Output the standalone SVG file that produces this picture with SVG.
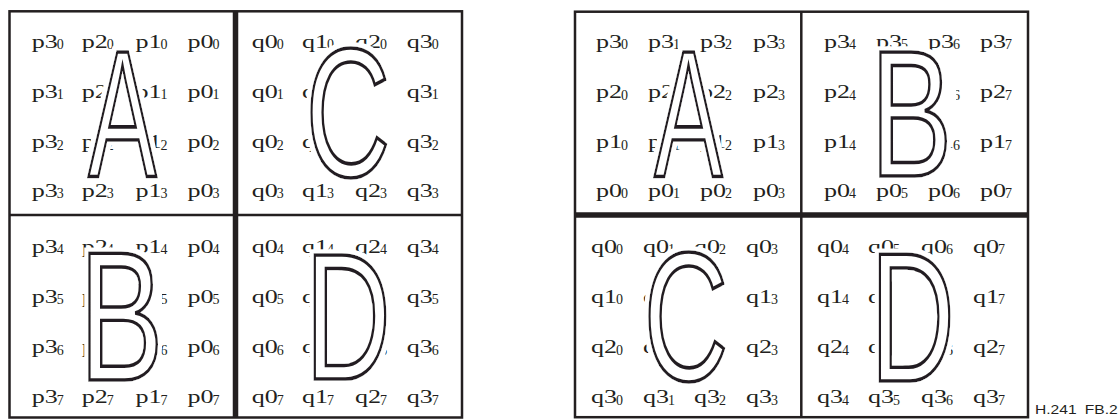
<svg xmlns="http://www.w3.org/2000/svg" width="1119" height="419" viewBox="0 0 1119 419">
<style>
.m{font-family:"Liberation Serif","Times New Roman",serif;font-size:18px;fill:#231f20}
.s{font-family:"Liberation Serif","Times New Roman",serif;font-size:14px;fill:#231f20}
.big{font-family:"Liberation Sans",Arial,sans-serif;font-size:100px;fill:#fff;stroke:#231f20;stroke-width:3px;stroke-linejoin:miter;vector-effect:non-scaling-stroke}
.w{fill:#fff;stroke:none}
.ln{stroke:#231f20;fill:none;stroke-width:2.5}
.thick{stroke:#231f20;fill:none;stroke-width:5.5}
.cap{font-family:"Liberation Sans",Arial,sans-serif;font-size:12px;fill:#231f20;word-spacing:3px}
</style>
<defs>
<filter id="halo" x="-15%" y="-15%" width="130%" height="130%">
<feMorphology in="SourceAlpha" operator="dilate" radius="4" result="d"/>
<feFlood flood-color="#fff" result="wf"/>
<feComposite in="wf" in2="d" operator="in" result="h"/>
<feMerge><feMergeNode in="h"/><feMergeNode in="SourceGraphic"/></feMerge>
</filter>
</defs>
<rect width="1119" height="419" fill="#fff"/>

<g id="left-TL">
<text class="m" transform="matrix(1.45 0 0 1 31.7 47.5)">p3</text><text class="s" x="56.7" y="49">0</text>
<text class="m" transform="matrix(1.45 0 0 1 81.7 47.5)">p2</text><text class="s" x="106.7" y="49">0</text>
<text class="m" transform="matrix(1.45 0 0 1 135.5 47.5)">p1</text><text class="s" x="160.5" y="49">0</text>
<text class="m" transform="matrix(1.45 0 0 1 187.5 47.5)">p0</text><text class="s" x="212.5" y="49">0</text>
<text class="m" transform="matrix(1.45 0 0 1 31.7 97.5)">p3</text><text class="s" x="56.7" y="99">1</text>
<text class="m" transform="matrix(1.45 0 0 1 81.7 97.5)">p2</text><text class="s" x="106.7" y="99">1</text>
<text class="m" transform="matrix(1.45 0 0 1 135.5 97.5)">p1</text><text class="s" x="160.5" y="99">1</text>
<text class="m" transform="matrix(1.45 0 0 1 187.5 97.5)">p0</text><text class="s" x="212.5" y="99">1</text>
<text class="m" transform="matrix(1.45 0 0 1 31.7 148)">p3</text><text class="s" x="56.7" y="149.5">2</text>
<text class="m" transform="matrix(1.45 0 0 1 81.7 148)">p2</text><text class="s" x="106.7" y="149.5">2</text>
<text class="m" transform="matrix(1.45 0 0 1 135.5 148)">p1</text><text class="s" x="160.5" y="149.5">2</text>
<text class="m" transform="matrix(1.45 0 0 1 187.5 148)">p0</text><text class="s" x="212.5" y="149.5">2</text>
<text class="m" transform="matrix(1.45 0 0 1 31.7 196.5)">p3</text><text class="s" x="56.7" y="198">3</text>
<text class="m" transform="matrix(1.45 0 0 1 81.7 196.5)">p2</text><text class="s" x="106.7" y="198">3</text>
<text class="m" transform="matrix(1.45 0 0 1 135.5 196.5)">p1</text><text class="s" x="160.5" y="198">3</text>
<text class="m" transform="matrix(1.45 0 0 1 187.5 196.5)">p0</text><text class="s" x="212.5" y="198">3</text>
<g filter="url(#halo)">
<text class="big" transform="matrix(1.024 0 0 1.808 88.3 175.7)">A</text>
</g>
</g>

<g id="left-TR">
<text class="m" transform="matrix(1.45 0 0 1 251.7 47.5)">q0</text><text class="s" x="276.7" y="49">0</text>
<text class="m" transform="matrix(1.45 0 0 1 302 47.5)">q1</text><text class="s" x="327" y="49">0</text>
<text class="m" transform="matrix(1.45 0 0 1 355 47.5)">q2</text><text class="s" x="380" y="49">0</text>
<text class="m" transform="matrix(1.45 0 0 1 406.7 47.5)">q3</text><text class="s" x="431.7" y="49">0</text>
<text class="m" transform="matrix(1.45 0 0 1 251.7 97.5)">q0</text><text class="s" x="276.7" y="99">1</text>
<text class="m" transform="matrix(1.45 0 0 1 302 97.5)">q1</text><text class="s" x="327" y="99">1</text>
<text class="m" transform="matrix(1.45 0 0 1 355 97.5)">q2</text><text class="s" x="380" y="99">1</text>
<text class="m" transform="matrix(1.45 0 0 1 406.7 97.5)">q3</text><text class="s" x="431.7" y="99">1</text>
<text class="m" transform="matrix(1.45 0 0 1 251.7 148)">q0</text><text class="s" x="276.7" y="149.5">2</text>
<text class="m" transform="matrix(1.45 0 0 1 302 148)">q1</text><text class="s" x="327" y="149.5">2</text>
<text class="m" transform="matrix(1.45 0 0 1 355 148)">q2</text><text class="s" x="380" y="149.5">2</text>
<text class="m" transform="matrix(1.45 0 0 1 406.7 148)">q3</text><text class="s" x="431.7" y="149.5">2</text>
<text class="m" transform="matrix(1.45 0 0 1 251.7 196.5)">q0</text><text class="s" x="276.7" y="198">3</text>
<text class="m" transform="matrix(1.45 0 0 1 302 196.5)">q1</text><text class="s" x="327" y="198">3</text>
<text class="m" transform="matrix(1.45 0 0 1 355 196.5)">q2</text><text class="s" x="380" y="198">3</text>
<text class="m" transform="matrix(1.45 0 0 1 406.7 196.5)">q3</text><text class="s" x="431.7" y="198">3</text>
<g filter="url(#halo)">
<ellipse class="w" cx="349" cy="112.5" rx="31" ry="55"/>
<rect class="w" x="350" y="82" width="38" height="60"/>
<text class="big" transform="matrix(1.174 0 0 1.831 305.5 175.5)">C</text>
</g>
</g>

<g id="left-BL">
<text class="m" transform="matrix(1.45 0 0 1 31.7 252.5)">p3</text><text class="s" x="56.7" y="254">4</text>
<text class="m" transform="matrix(1.45 0 0 1 81.7 252.5)">p2</text><text class="s" x="106.7" y="254">4</text>
<text class="m" transform="matrix(1.45 0 0 1 135.5 252.5)">p1</text><text class="s" x="160.5" y="254">4</text>
<text class="m" transform="matrix(1.45 0 0 1 187.5 252.5)">p0</text><text class="s" x="212.5" y="254">4</text>
<text class="m" transform="matrix(1.45 0 0 1 31.7 302.5)">p3</text><text class="s" x="56.7" y="304">5</text>
<text class="m" transform="matrix(1.45 0 0 1 81.7 302.5)">p2</text><text class="s" x="106.7" y="304">5</text>
<text class="m" transform="matrix(1.45 0 0 1 135.5 302.5)">p1</text><text class="s" x="160.5" y="304">5</text>
<text class="m" transform="matrix(1.45 0 0 1 187.5 302.5)">p0</text><text class="s" x="212.5" y="304">5</text>
<text class="m" transform="matrix(1.45 0 0 1 31.7 353)">p3</text><text class="s" x="56.7" y="354.5">6</text>
<text class="m" transform="matrix(1.45 0 0 1 81.7 353)">p2</text><text class="s" x="106.7" y="354.5">6</text>
<text class="m" transform="matrix(1.45 0 0 1 135.5 353)">p1</text><text class="s" x="160.5" y="354.5">6</text>
<text class="m" transform="matrix(1.45 0 0 1 187.5 353)">p0</text><text class="s" x="212.5" y="354.5">6</text>
<text class="m" transform="matrix(1.45 0 0 1 31.7 403)">p3</text><text class="s" x="56.7" y="404.5">7</text>
<text class="m" transform="matrix(1.45 0 0 1 81.7 403)">p2</text><text class="s" x="106.7" y="404.5">7</text>
<text class="m" transform="matrix(1.45 0 0 1 135.5 403)">p1</text><text class="s" x="160.5" y="404.5">7</text>
<text class="m" transform="matrix(1.45 0 0 1 187.5 403)">p0</text><text class="s" x="212.5" y="404.5">7</text>
<g filter="url(#halo)">
<rect class="w" x="96" y="262" width="40" height="50"/>
<rect class="w" x="96" y="322" width="46" height="50"/>
<rect class="w" x="136" y="284" width="22" height="22"/>
<text class="big" transform="matrix(1.267 0 0 1.837 79.1 380.4)">B</text>
</g>
</g>

<g id="left-BR">
<text class="m" transform="matrix(1.45 0 0 1 251.7 252.5)">q0</text><text class="s" x="276.7" y="254">4</text>
<text class="m" transform="matrix(1.45 0 0 1 302 252.5)">q1</text><text class="s" x="327" y="254">4</text>
<text class="m" transform="matrix(1.45 0 0 1 355 252.5)">q2</text><text class="s" x="380" y="254">4</text>
<text class="m" transform="matrix(1.45 0 0 1 406.7 252.5)">q3</text><text class="s" x="431.7" y="254">4</text>
<text class="m" transform="matrix(1.45 0 0 1 251.7 302.5)">q0</text><text class="s" x="276.7" y="304">5</text>
<text class="m" transform="matrix(1.45 0 0 1 302 302.5)">q1</text><text class="s" x="327" y="304">5</text>
<text class="m" transform="matrix(1.45 0 0 1 355 302.5)">q2</text><text class="s" x="380" y="304">5</text>
<text class="m" transform="matrix(1.45 0 0 1 406.7 302.5)">q3</text><text class="s" x="431.7" y="304">5</text>
<text class="m" transform="matrix(1.45 0 0 1 251.7 353)">q0</text><text class="s" x="276.7" y="354.5">6</text>
<text class="m" transform="matrix(1.45 0 0 1 302 353)">q1</text><text class="s" x="327" y="354.5">6</text>
<text class="m" transform="matrix(1.45 0 0 1 355 353)">q2</text><text class="s" x="380" y="354.5">6</text>
<text class="m" transform="matrix(1.45 0 0 1 406.7 353)">q3</text><text class="s" x="431.7" y="354.5">6</text>
<text class="m" transform="matrix(1.45 0 0 1 251.7 403)">q0</text><text class="s" x="276.7" y="404.5">7</text>
<text class="m" transform="matrix(1.45 0 0 1 302 403)">q1</text><text class="s" x="327" y="404.5">7</text>
<text class="m" transform="matrix(1.45 0 0 1 355 403)">q2</text><text class="s" x="380" y="404.5">7</text>
<text class="m" transform="matrix(1.45 0 0 1 406.7 403)">q3</text><text class="s" x="431.7" y="404.5">7</text>
<g filter="url(#halo)">
<rect class="w" x="324" y="270" width="48" height="93" rx="20"/>
<text class="big" transform="matrix(1.189 0 0 1.808 305.1 378.7)">D</text>
</g>
</g>

<g id="right-TL">
<text class="m" transform="matrix(1.45 0 0 1 596 47.5)">p3</text><text class="s" x="621" y="49">0</text>
<text class="m" transform="matrix(1.45 0 0 1 648 47.5)">p3</text><text class="s" x="673" y="49">1</text>
<text class="m" transform="matrix(1.45 0 0 1 700 47.5)">p3</text><text class="s" x="725" y="49">2</text>
<text class="m" transform="matrix(1.45 0 0 1 753 47.5)">p3</text><text class="s" x="778" y="49">3</text>
<text class="m" transform="matrix(1.45 0 0 1 596 98)">p2</text><text class="s" x="621" y="99.5">0</text>
<text class="m" transform="matrix(1.45 0 0 1 648 98)">p2</text><text class="s" x="673" y="99.5">1</text>
<text class="m" transform="matrix(1.45 0 0 1 700 98)">p2</text><text class="s" x="725" y="99.5">2</text>
<text class="m" transform="matrix(1.45 0 0 1 753 98)">p2</text><text class="s" x="778" y="99.5">3</text>
<text class="m" transform="matrix(1.45 0 0 1 596 148)">p1</text><text class="s" x="621" y="149.5">0</text>
<text class="m" transform="matrix(1.45 0 0 1 648 148)">p1</text><text class="s" x="673" y="149.5">1</text>
<text class="m" transform="matrix(1.45 0 0 1 700 148)">p1</text><text class="s" x="725" y="149.5">2</text>
<text class="m" transform="matrix(1.45 0 0 1 753 148)">p1</text><text class="s" x="778" y="149.5">3</text>
<text class="m" transform="matrix(1.45 0 0 1 596 196.5)">p0</text><text class="s" x="621" y="198">0</text>
<text class="m" transform="matrix(1.45 0 0 1 648 196.5)">p0</text><text class="s" x="673" y="198">1</text>
<text class="m" transform="matrix(1.45 0 0 1 700 196.5)">p0</text><text class="s" x="725" y="198">2</text>
<text class="m" transform="matrix(1.45 0 0 1 753 196.5)">p0</text><text class="s" x="778" y="198">3</text>
<g filter="url(#halo)">
<text class="big" transform="matrix(1.024 0 0 1.808 654.3 175.7)">A</text>
</g>
</g>

<g id="right-TR">
<text class="m" transform="matrix(1.45 0 0 1 824 47.5)">p3</text><text class="s" x="849" y="49">4</text>
<text class="m" transform="matrix(1.45 0 0 1 876 47.5)">p3</text><text class="s" x="901" y="49">5</text>
<text class="m" transform="matrix(1.45 0 0 1 928 47.5)">p3</text><text class="s" x="953" y="49">6</text>
<text class="m" transform="matrix(1.45 0 0 1 980 47.5)">p3</text><text class="s" x="1005" y="49">7</text>
<text class="m" transform="matrix(1.45 0 0 1 824 98)">p2</text><text class="s" x="849" y="99.5">4</text>
<text class="m" transform="matrix(1.45 0 0 1 876 98)">p2</text><text class="s" x="901" y="99.5">5</text>
<text class="m" transform="matrix(1.45 0 0 1 928 98)">p2</text><text class="s" x="953" y="99.5">6</text>
<text class="m" transform="matrix(1.45 0 0 1 980 98)">p2</text><text class="s" x="1005" y="99.5">7</text>
<text class="m" transform="matrix(1.45 0 0 1 824 148)">p1</text><text class="s" x="849" y="149.5">4</text>
<text class="m" transform="matrix(1.45 0 0 1 876 148)">p1</text><text class="s" x="901" y="149.5">5</text>
<text class="m" transform="matrix(1.45 0 0 1 928 148)">p1</text><text class="s" x="953" y="149.5">6</text>
<text class="m" transform="matrix(1.45 0 0 1 980 148)">p1</text><text class="s" x="1005" y="149.5">7</text>
<text class="m" transform="matrix(1.45 0 0 1 824 196.5)">p0</text><text class="s" x="849" y="198">4</text>
<text class="m" transform="matrix(1.45 0 0 1 876 196.5)">p0</text><text class="s" x="901" y="198">5</text>
<text class="m" transform="matrix(1.45 0 0 1 928 196.5)">p0</text><text class="s" x="953" y="198">6</text>
<text class="m" transform="matrix(1.45 0 0 1 980 196.5)">p0</text><text class="s" x="1005" y="198">7</text>
<g filter="url(#halo)">
<rect class="w" x="887" y="59" width="39" height="49"/>
<rect class="w" x="887" y="118" width="45" height="49"/>
<rect class="w" x="925" y="82" width="27" height="20"/>
<text class="big" transform="matrix(1.23 0 0 1.808 870.3 175.7)">B</text>
</g>
</g>

<g id="right-BL">
<text class="m" transform="matrix(1.45 0 0 1 591 252.5)">q0</text><text class="s" x="616" y="254">0</text>
<text class="m" transform="matrix(1.45 0 0 1 643 252.5)">q0</text><text class="s" x="668" y="254">1</text>
<text class="m" transform="matrix(1.45 0 0 1 694 252.5)">q0</text><text class="s" x="719" y="254">2</text>
<text class="m" transform="matrix(1.45 0 0 1 746 252.5)">q0</text><text class="s" x="771" y="254">3</text>
<text class="m" transform="matrix(1.45 0 0 1 591 302.5)">q1</text><text class="s" x="616" y="304">0</text>
<text class="m" transform="matrix(1.45 0 0 1 643 302.5)">q1</text><text class="s" x="668" y="304">1</text>
<text class="m" transform="matrix(1.45 0 0 1 694 302.5)">q1</text><text class="s" x="719" y="304">2</text>
<text class="m" transform="matrix(1.45 0 0 1 746 302.5)">q1</text><text class="s" x="771" y="304">3</text>
<text class="m" transform="matrix(1.45 0 0 1 591 353)">q2</text><text class="s" x="616" y="354.5">0</text>
<text class="m" transform="matrix(1.45 0 0 1 643 353)">q2</text><text class="s" x="668" y="354.5">1</text>
<text class="m" transform="matrix(1.45 0 0 1 694 353)">q2</text><text class="s" x="719" y="354.5">2</text>
<text class="m" transform="matrix(1.45 0 0 1 746 353)">q2</text><text class="s" x="771" y="354.5">3</text>
<text class="m" transform="matrix(1.45 0 0 1 591 403)">q3</text><text class="s" x="616" y="404.5">0</text>
<text class="m" transform="matrix(1.45 0 0 1 643 403)">q3</text><text class="s" x="668" y="404.5">1</text>
<text class="m" transform="matrix(1.45 0 0 1 694 403)">q3</text><text class="s" x="719" y="404.5">2</text>
<text class="m" transform="matrix(1.45 0 0 1 746 403)">q3</text><text class="s" x="771" y="404.5">3</text>
<g filter="url(#halo)">
<ellipse class="w" cx="687" cy="316.5" rx="31" ry="55"/>
<rect class="w" x="688" y="286" width="38" height="60"/>
<text class="big" transform="matrix(1.174 0 0 1.831 643.5 379.5)">C</text>
</g>
</g>

<g id="right-BR">
<text class="m" transform="matrix(1.45 0 0 1 817 252.5)">q0</text><text class="s" x="842" y="254">4</text>
<text class="m" transform="matrix(1.45 0 0 1 868 252.5)">q0</text><text class="s" x="893" y="254">5</text>
<text class="m" transform="matrix(1.45 0 0 1 921 252.5)">q0</text><text class="s" x="946" y="254">6</text>
<text class="m" transform="matrix(1.45 0 0 1 973 252.5)">q0</text><text class="s" x="998" y="254">7</text>
<text class="m" transform="matrix(1.45 0 0 1 817 302.5)">q1</text><text class="s" x="842" y="304">4</text>
<text class="m" transform="matrix(1.45 0 0 1 868 302.5)">q1</text><text class="s" x="893" y="304">5</text>
<text class="m" transform="matrix(1.45 0 0 1 921 302.5)">q1</text><text class="s" x="946" y="304">6</text>
<text class="m" transform="matrix(1.45 0 0 1 973 302.5)">q1</text><text class="s" x="998" y="304">7</text>
<text class="m" transform="matrix(1.45 0 0 1 817 353)">q2</text><text class="s" x="842" y="354.5">4</text>
<text class="m" transform="matrix(1.45 0 0 1 868 353)">q2</text><text class="s" x="893" y="354.5">5</text>
<text class="m" transform="matrix(1.45 0 0 1 921 353)">q2</text><text class="s" x="946" y="354.5">6</text>
<text class="m" transform="matrix(1.45 0 0 1 973 353)">q2</text><text class="s" x="998" y="354.5">7</text>
<text class="m" transform="matrix(1.45 0 0 1 817 403)">q3</text><text class="s" x="842" y="404.5">4</text>
<text class="m" transform="matrix(1.45 0 0 1 868 403)">q3</text><text class="s" x="893" y="404.5">5</text>
<text class="m" transform="matrix(1.45 0 0 1 921 403)">q3</text><text class="s" x="946" y="404.5">6</text>
<text class="m" transform="matrix(1.45 0 0 1 973 403)">q3</text><text class="s" x="998" y="404.5">7</text>
<g filter="url(#halo)">
<rect class="w" x="889" y="271" width="48" height="95" rx="20"/>
<text class="big" transform="matrix(1.172 0 0 1.837 870.3 380.7)">D</text>
</g>
</g>

<g id="connectors">
<rect class="ln" x="9.5" y="11.3" width="452.5" height="406.2"/>
<line class="thick" x1="235.5" y1="11.3" x2="235.5" y2="417.5"/>
<line class="ln" x1="9.5" y1="215" x2="462" y2="215"/>
<rect class="ln" x="575" y="11.7" width="453" height="405.5"/>
<line class="ln" x1="801.3" y1="11.7" x2="801.3" y2="417.2"/>
<line class="thick" x1="575" y1="215" x2="1028" y2="215"/>
</g>

<text class="cap" transform="matrix(1.3 0 0 1 1035 414.3)">H.241 FB.2</text>
</svg>
